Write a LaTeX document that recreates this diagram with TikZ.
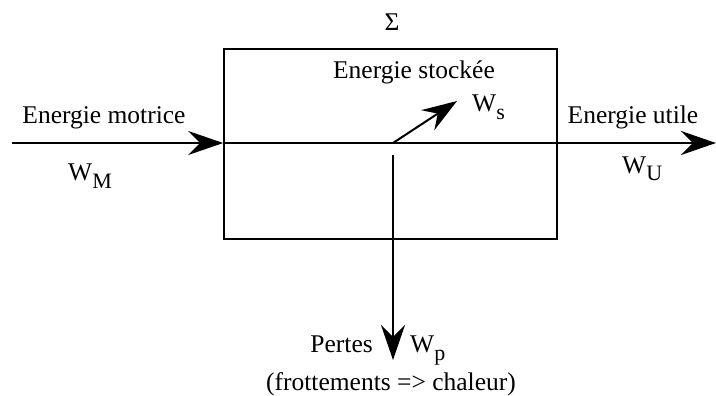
\documentclass[tikz,border=0pt]{standalone}
\usepackage{fontspec}
\newfontfamily\tnr{LiberationSerif-Regular.ttf}
\usetikzlibrary{arrows.meta}
\newcommand{\lowsub}[1]{\raisebox{-8pt}{\fontsize{22}{24}\selectfont #1}}
\begin{document}
\begin{tikzpicture}[x=1pt,y=-1pt,
  lbl/.style={font=\tnr\fontsize{25.5}{30}\selectfont, inner sep=0pt},
  flow/.style={line width=2pt, -{Stealth[length=35pt,width=24pt,inset=12pt]}},
  plain/.style={line width=2pt},
  box/.style={draw, line width=1.6pt, minimum width=333pt, minimum height=190pt, inner sep=0pt}]
\useasboundingbox (0,0) rectangle (716,396);
\node[box] (sys) at (390.5,144) {};
\coordinate (in) at (12,143);
\coordinate (out) at (716,143);
\coordinate (ej) at (393,143);
\coordinate (stk) at (457,101);
\coordinate (vtop) at (393,155);
\coordinate (vbot) at (393,360);
\draw[flow] (in) -- (sys.west |- in);
\draw[plain] (sys.west |- in) -- (sys.east |- in);
\draw[flow] (sys.east |- in) -- (out);
\draw[flow] (ej) -- (stk);
\draw[flow] (vtop) -- (vbot);
\node[lbl] (sigma) at (392,22) {Σ};
\node[lbl] (stock) at (414,72) {Energie stockée};
\node[lbl] (motr) at (104,118) {Energie motrice};
\node[lbl, anchor=base west] (wm) at (68,180) {W\lowsub{M}};
\node[lbl] (util) at (633,117) {Energie utile};
\node[lbl, anchor=base west] (wu) at (622,173) {W\lowsub{U}};
\node[lbl, anchor=base west] (ws) at (472,112) {W\lowsub{s}};
\node[lbl, anchor=base east] (pertes) at (373,352) {Pertes};
\node[lbl, anchor=base west] (wp) at (410,352) {W\lowsub{p}};
\node[lbl, anchor=base] (frott) at (391,390) {(frottements => chaleur)};
\end{tikzpicture}
\end{document}
